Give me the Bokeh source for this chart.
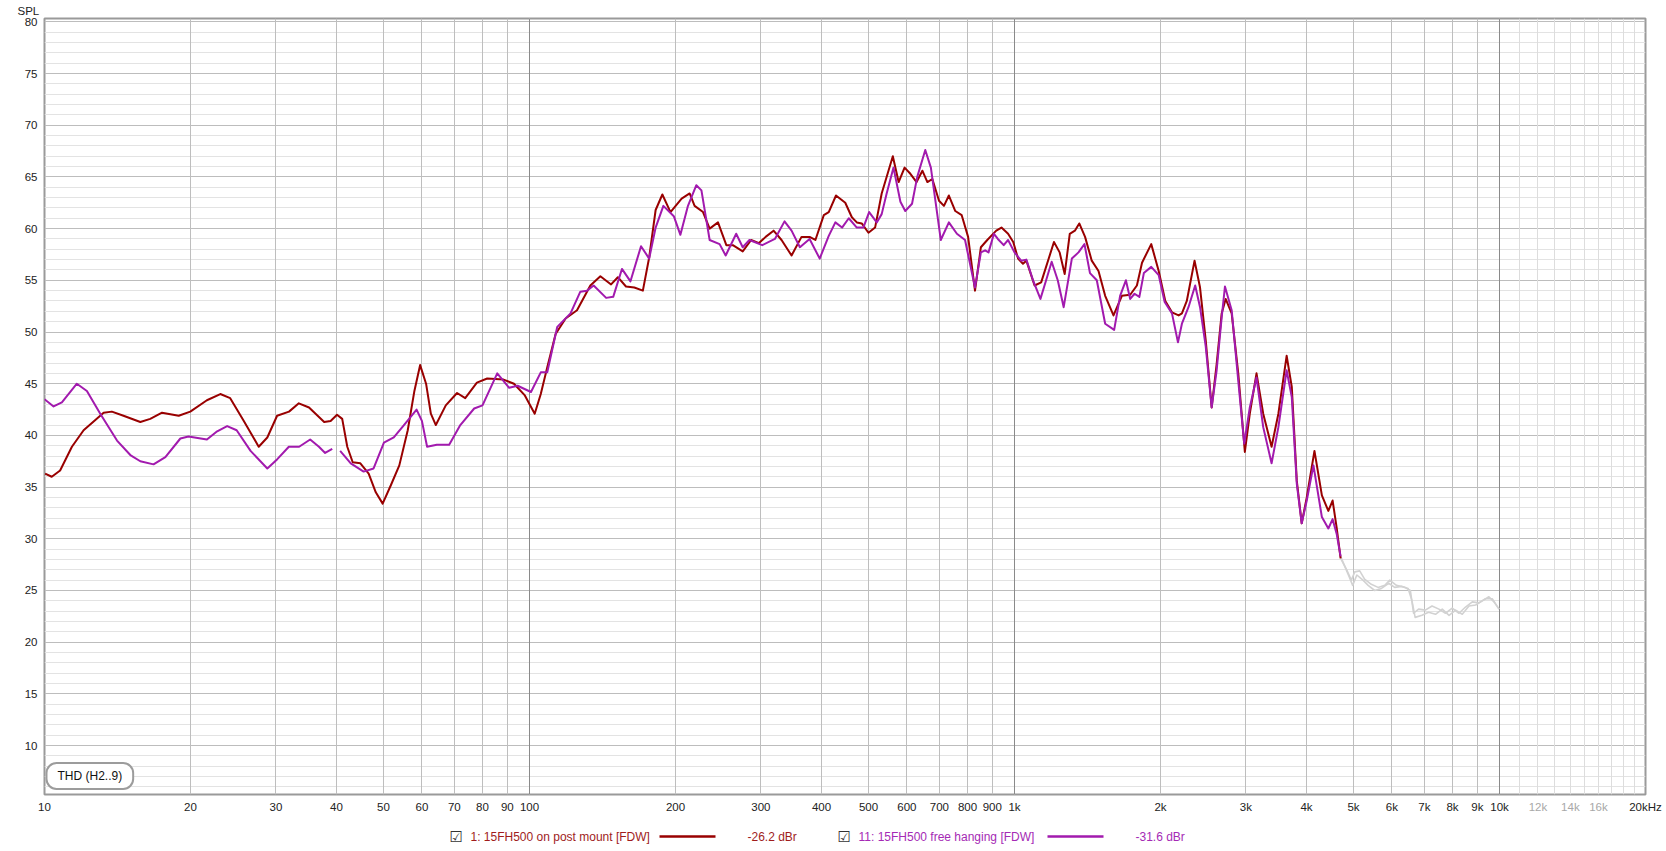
import math
from bokeh.plotting import figure
from bokeh.layouts import column
from bokeh.models import Range1d, FixedTicker, Grid, Label, Title
from bokeh.core.properties import value
from bokeh.embed import file_html
from bokeh.resources import INLINE

NAN = float("nan")

# ---- data ----
freq_post = [10.03, 10.35, 10.77, 11.39, 12.04, 13.24, 13.77, 14.55, 15.76, 16.52, 17.47, 18.91, 19.98,
             21.62, 23.04, 24.15, 25.76, 27.65, 28.8, 30.17, 31.93, 33.45, 35.11, 37.73, 38.9, 40.1, 41.1,
             42.1, 43.2, 44.8, 46.6, 48.2, 49.8, 51.8, 53.9, 56.1, 57.9, 59.5, 61.2, 62.6, 64.1, 67.2, 70.9,
             73.7, 77.9, 81.8, 88.4, 92.9, 97.7, 102.5, 105.5, 108.8, 113.2, 118.7, 125.3, 133.5, 140.0,
             147.3, 152.1, 158.1, 164.5, 171.3, 176.5, 182.0, 187.9, 195.3, 205.9, 213.9, 219.0, 227.9,
             235.2, 244.7, 254.6, 262.6, 275.2, 286.4, 297.3, 306.8, 318.6, 330.9, 347.0, 363.8, 378.0,
             388.6, 404.4, 414.0, 428.5, 447.8, 462.0, 473.0, 484.3, 499.9, 515.9, 532.3, 561.2, 576.9,
             593.4, 610.0, 628.2, 645.7, 661.3, 677.0, 698.8, 715.4, 732.3, 755.0, 778.3, 802.3, 829.0,
             852.5, 878.7, 917, 940, 970, 994, 1017, 1041, 1058, 1100, 1135, 1206, 1239, 1269, 1300, 1332,
             1360, 1398, 1443, 1490, 1538, 1600, 1665, 1732, 1788, 1832, 1914, 1983, 2046, 2112, 2180,
             2214, 2266, 2351, 2413, 2479, 2550, 2611, 2674, 2725, 2804, 2893, 2985, 3056, 3155, 3257,
             3389, 3500, 3640, 3730, 3820, 3910, 4005, 4154, 4303, 4437, 4528, 4615, 4703]
spl_post = [36.3, 36.0, 36.6, 38.9, 40.5, 42.2, 42.3, 41.9, 41.3, 41.6, 42.2, 41.9, 42.3,
            43.4, 44.0, 43.6, 41.4, 38.9, 39.8, 41.9, 42.3, 43.1, 42.7, 41.3, 41.4, 42.0, 41.6,
            38.9, 37.4, 37.3, 36.3, 34.5, 33.4, 35.2, 37.1, 40.5, 44.3, 46.8, 45.0, 42.1, 41.0, 42.9, 44.1,
            43.6, 45.1, 45.5, 45.4, 45.0, 43.9, 42.1, 44.0, 46.6, 49.8, 51.3, 52.1, 54.5, 55.4,
            54.6, 55.3, 54.4, 54.3, 54.0, 57.2, 61.8, 63.3, 61.6, 62.9, 63.4, 62.2, 61.6,
            60.0, 60.6, 58.4, 58.4, 57.8, 58.9, 58.6, 59.2, 59.8, 58.9, 57.4, 59.2, 59.2,
            58.9, 61.3, 61.6, 63.2, 62.5, 61.1, 60.6, 60.5, 59.6, 60.1, 63.4, 67.0, 64.5,
            65.9, 65.3, 64.5, 65.6, 64.5, 64.8, 62.7, 62.2, 63.2, 61.7, 61.3, 59.2, 54.0,
            58.2, 58.9, 59.8, 60.1, 59.5, 58.7, 57.1, 56.6, 56.9, 54.5, 54.8, 58.7, 57.7, 55.6, 59.5, 59.8,
            60.5, 59.2, 56.9, 55.9, 53.5, 51.6, 53.5, 53.6, 54.5, 56.7, 58.5, 55.9, 53.0, 51.9, 51.6,
            51.8, 53.0, 56.9, 54.3, 49.2, 42.7, 46.9, 51.8, 53.2, 51.8, 46.0, 38.4, 42.1, 46.0, 42.1,
            38.9, 42.1, 47.7, 44.7, 35.6, 31.5, 34.0, 38.5, 34.2, 32.7, 33.7, 31.1, 28.1]

freq_free = [10.0, 10.44, 10.86, 11.66, 12.23, 13.03, 14.11, 15.03, 15.76, 16.78, 17.75, 19.06, 19.81,
             21.62, 22.7, 23.8, 24.9, 26.6, 28.8, 30.2, 31.9, 33.5, 35.3, 36.8, 37.9, 39.2, 40.0,
             40.7, 42.8, 45.5, 47.7, 50.1, 52.5, 55.1, 58.5, 60.0, 61.5, 64.4, 68.3, 72.0, 76.9, 80.0,
             85.8, 90.8, 94.5, 100.7, 105.5, 108.8, 114.1, 121.5, 127.3, 131.4, 135.6, 143.9, 148.8,
             155.1, 161.5, 169.8, 176.5, 182.0, 188.8, 198.4, 204.7, 212.2, 220.8, 226.2, 235.2, 246.6,
             253.8, 266.8, 275.2, 284.1, 301.9, 320.6, 335.6, 347.0, 361.0, 378.0, 396.6, 414.0, 427.2,
             441.0, 455.3, 473.0, 487.9, 501.5, 520.0, 532.3, 545.0, 563.0, 581.8, 595.3, 614.8, 630.2,
             654.7, 672.3, 704.7, 732.3, 760.8, 790.7, 829.0, 852.5, 870, 884, 907, 924, 950, 970, 1000,
             1032, 1058, 1092, 1131, 1162, 1193, 1228, 1263, 1313, 1355, 1394, 1431, 1478, 1538, 1605,
             1651, 1697, 1732, 1768, 1809, 1848, 1914, 1983, 2040, 2112, 2173, 2214, 2284, 2358, 2413,
             2479, 2550, 2611, 2674, 2716, 2804, 2893, 2976, 3056, 3155, 3257, 3389, 3500, 3640, 3730,
             3820, 3910, 4005, 4134, 4303, 4437, 4528, 4615, 4703]
spl_free = [43.5, 42.8, 43.2, 45.0, 44.3, 42.1, 39.5, 38.1, 37.5, 37.2, 37.9, 39.7, 39.9,
            39.6, 40.4, 40.9, 40.5, 38.5, 36.8, 37.7, 38.9, 38.9, 39.6, 38.9, 38.3, 38.7, NAN,
            38.5, 37.3, 36.5, 36.8, 39.3, 39.8, 41.0, 42.5, 41.4, 38.9, 39.1, 39.1, 41.0, 42.6, 42.9,
            46.0, 44.6, 44.8, 44.2, 46.1, 46.1, 50.5, 51.8, 53.9, 54.0, 54.5, 53.3, 53.4,
            56.1, 54.9, 58.3, 57.1, 60.1, 62.2, 61.2, 59.4, 62.2, 64.2, 63.7, 58.9, 58.5,
            57.4, 59.5, 58.2, 58.9, 58.4, 59.0, 60.7, 59.8, 58.2, 59.0, 57.1, 59.3, 60.6,
            60.1, 61.0, 60.1, 60.1, 61.6, 60.6, 61.4, 63.4, 65.9, 62.6, 61.7, 62.4, 65.0,
            67.6, 65.9, 58.9, 60.6, 59.5, 58.9, 54.3, 57.7, 57.9, 57.7, 59.5, 59.0, 58.4, 58.9, 57.7,
            56.9, 57.0, 55.0, 53.2, 55.0, 56.8, 55.0, 52.4, 57.1, 57.7, 58.5, 55.7, 55.0, 50.8, 50.2,
            53.5, 55.0, 53.2, 53.7, 53.4, 55.7, 56.3, 55.5, 52.9, 51.8, 49.0, 50.8, 52.4, 54.5, 52.4,
            48.6, 42.7, 46.3, 51.4, 54.4, 52.1, 45.3, 39.2, 42.7, 45.6, 40.8, 37.3, 40.8, 46.3, 43.7,
            35.3, 31.5, 33.7, 37.1, 32.1, 31.0, 31.9, 30.5, 28.3]

freq_gray_a = [4703, 4830, 4950, 5030, 5150, 5270, 5440, 5620, 5800, 5940, 6130, 6380, 6550, 6650, 6810,
               7030, 7260, 7500, 7740, 7990, 8250, 8510, 8790, 9070, 9360, 9660, 9980]
spl_gray_a = [28.1, 27.1, 26.0, 26.8, 26.9, 26.1, 25.6, 25.3, 25.5, 26.0, 25.5, 25.3, 25.0, 22.8, 23.2,
              23.1, 23.5, 23.2, 22.8, 23.3, 22.8, 23.4, 23.9, 23.8, 24.2, 24.2, 23.2]
freq_gray_b = [4703, 4790, 4900, 4980, 5080, 5230, 5360, 5530, 5710, 5910, 6080, 6280, 6480, 6600, 6700,
               6920, 7140, 7380, 7620, 7870, 8120, 8380, 8650, 8930, 9210, 9510, 9740, 9980]
spl_gray_b = [28.3, 27.4, 26.3, 25.5, 26.5, 26.0, 25.5, 25.0, 25.2, 25.7, 25.3, 25.4, 25.2, 24.0, 22.4,
              22.6, 22.9, 22.7, 23.2, 22.6, 23.1, 22.7, 23.5, 23.6, 24.0, 24.4, 23.9, 23.2]

x_ticks = [10, 20, 30, 40, 50, 60, 70, 80, 90, 100, 200, 300, 400, 500, 600, 700, 800, 900,
           1000, 2000, 3000, 4000, 5000, 6000, 7000, 8000, 9000, 10000, 20000]
x_tick_labels = ["10", "20", "30", "40", "50", "60", "70", "80", "90", "100", "200", "300", "400", "500",
                 "600", "700", "800", "900", "1k", "2k", "3k", "4k", "5k", "6k", "7k", "8k", "9k", "10k", "20kHz"]
x_faint_ticks = [12000, 14000, 16000]
x_faint_labels = ["12k", "14k", "16k"]
y_ticks = [10, 15, 20, 25, 30, 35, 40, 45, 50, 55, 60, 65, 70, 75, 80]

legend_names = ["1: 15FH500 on post mount [FDW]", "11: 15FH500 free hanging [FDW]"]
legend_levels = ["-26.2 dBr", "-31.6 dBr"]

RED = "#990000"
PURPLE = "#a21aae"
GRAY = "#d2d2d2"
FONT = "Liberation Sans"
FS = "11.5px"
FS_LEG = "12px"
X0, X1 = 10, 20000
Y0, Y1 = 5.27, 80.32
W = 1666
BL, BR = 44, 21

# ---- main chart ----
p = figure(width=W, height=796, x_axis_type="log",
           x_range=Range1d(X0, X1), y_range=Range1d(Y0, Y1),
           output_backend="svg", toolbar_location=None, x_axis_location=None,
           min_border_left=BL, min_border_right=BR, min_border_top=18, min_border_bottom=2)
p.title = Title(text="SPL", align="left", offset=-27, text_font=FONT, text_font_size=FS,
                text_font_style="normal", text_color="#222222", standoff=4)
p.background_fill_color = "white"
p.border_fill_color = "white"
p.outline_line_color = "#9a9a9a"
p.outline_line_width = 2
p.ygrid.visible = False

def add_grid(dim, ticks, color):
    p.add_layout(Grid(dimension=dim, ticker=FixedTicker(ticks=ticks), grid_line_color=color,
                      grid_line_width=1))

add_grid(1, [v for v in range(6, 81) if v % 5 != 0], "#e3e3e3")
add_grid(1, y_ticks, "#bdbdbd")
add_grid(0, [11000 + 1000 * i for i in range(9)], "#dddddd")
add_grid(0, [t for t in x_ticks if t not in (10, 100, 1000, 10000, 20000)], "#bebebe")
add_grid(0, [100, 1000, 10000], "#8a8a8a")

ya = p.yaxis[0]
ya.ticker = FixedTicker(ticks=y_ticks)
ya.axis_line_color = None
ya.major_tick_line_color = None
ya.minor_tick_line_color = None
ya.major_tick_out = 0
ya.major_tick_in = 0
ya.major_label_text_font = FONT
ya.major_label_text_font_size = FS
ya.major_label_text_color = "#222222"
ya.major_label_standoff = 7

p.line(freq_gray_a, spl_gray_a, line_color=GRAY, line_width=1.6, line_join="round")
p.line(freq_gray_b, spl_gray_b, line_color=GRAY, line_width=1.6, line_join="round")
p.line(freq_post, spl_post, line_color=RED, line_width=2, line_join="round")
p.line(freq_free, spl_free, line_color=PURPLE, line_width=2, line_join="round")

p.add_layout(Label(x=2, y=18.5, x_units="screen", y_units="screen", text="THD (H2..9)",
                   text_align="left", text_baseline="middle", text_font=FONT,
                   text_font_size="12px", text_color="#111111",
                   background_fill_color="white", border_line_color="#9c9c9c",
                   border_line_width=2, padding=(11, 6), border_radius=10))

# ---- frequency tick-label strip: same log scale, range widened to the full strip width ----
frame_w = W - BL - BR
px_per_decade = frame_w / math.log10(X1 / X0)
tx0 = X0 * 10 ** (-BL / px_per_decade)
tx1 = X1 * 10 ** (BR / px_per_decade)
TH = 24
tk = figure(width=W, height=TH, x_axis_type="log", x_range=Range1d(tx0, tx1), y_range=Range1d(0, TH),
            output_backend="svg", toolbar_location=None, x_axis_location=None, y_axis_location=None,
            min_border_left=0, min_border_right=0, min_border_top=0, min_border_bottom=0,
            frame_align=False)
tk.grid.visible = False
tk.outline_line_color = None
tk.background_fill_color = "white"
tk.border_fill_color = "white"
all_ticks = x_ticks + x_faint_ticks
all_labels = x_tick_labels + x_faint_labels
all_colors = ["#222222"] * len(x_ticks) + ["#a8a8a8"] * len(x_faint_ticks)
tk.text(x=all_ticks, y=[TH - 10] * len(all_ticks), text=all_labels, text_color=all_colors,
        text_font=value(FONT), text_font_size=FS, text_align="center", text_baseline="middle")

# ---- legend strip ----
LH = 31
lg = figure(width=W, height=LH, x_range=Range1d(0, W), y_range=Range1d(0, LH),
            output_backend="svg", toolbar_location=None, x_axis_location=None, y_axis_location=None,
            min_border_left=0, min_border_right=0, min_border_top=0, min_border_bottom=0,
            frame_align=False)
lg.grid.visible = False
lg.outline_line_color = None
lg.background_fill_color = "white"
lg.border_fill_color = "white"
ly = 15
for i, (name, lvl, col, tcol) in enumerate(zip(legend_names, legend_levels, [RED, PURPLE],
                                                ["#a01c1c", "#a52ab5"])):
    x0 = 449 + i * 388
    lg.text(x=[x0], y=[ly], text=["\u2611"], text_font=value("DejaVu Sans"), text_font_size="15px",
            text_color="#333333", text_align="left", text_baseline="middle")
    lg.text(x=[x0 + 21], y=[ly], text=[name], text_font=value(FONT), text_font_size=FS_LEG,
            text_color=tcol, text_align="left", text_baseline="middle")
    lg.line(x=[x0 + 210, x0 + 266], y=[ly, ly], line_color=col, line_width=2.5)
    lg.text(x=[x0 + 298], y=[ly], text=[lvl], text_font=value(FONT), text_font_size=FS_LEG,
            text_color=tcol, text_align="left", text_baseline="middle")

open("out.html", "w").write(file_html(column(p, tk, lg, spacing=0), INLINE))
